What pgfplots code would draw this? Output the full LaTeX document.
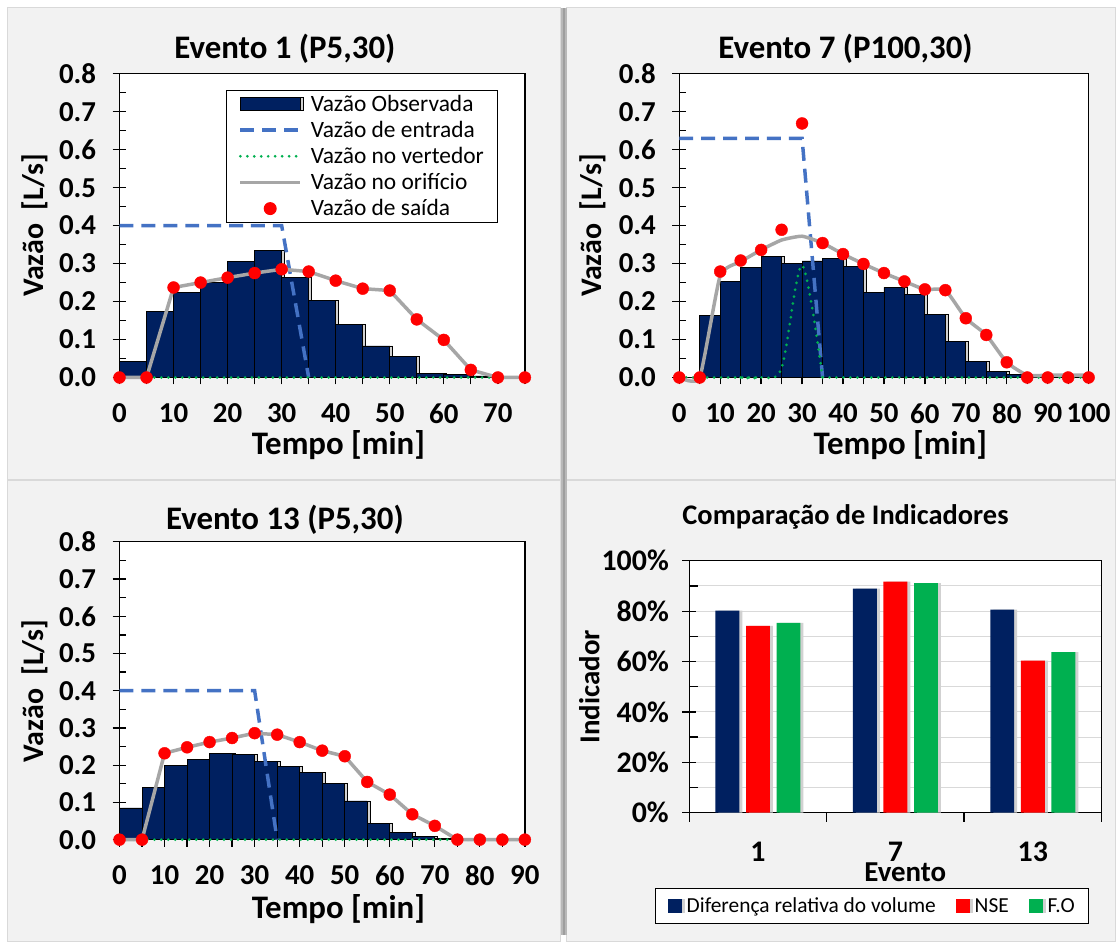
\documentclass[border=0pt]{standalone}
\usepackage{fontspec}
\setmainfont{Carlito}
\usepackage{pgfplots}
\pgfplotsset{compat=1.18}
\newcommand\fs[1]{\fontsize{#1}{#1}\selectfont}
\definecolor{navy}{HTML}{002060}
\definecolor{inflow}{HTML}{4472C4}
\definecolor{weir}{HTML}{00B050}
\definecolor{orif}{HTML}{A6A6A6}
\definecolor{panelbg}{HTML}{F2F2F2}
\definecolor{gridgray}{HTML}{D9D9D9}

\pgfplotsset{
  hydro/.style={
    scale only axis, anchor=south west, clip=false,
    axis line style={black, line width=1.3pt},
    axis background/.style={fill=white},
    ymin=0, ymax=0.8, ytick={0,0.1,0.2,0.3,0.4,0.5,0.6,0.7,0.8}, minor y tick num=1,
    ytick pos=left, xtick pos=bottom,
    tick align=outside, major tick length=14pt, minor tick length=7pt,
    tick style={black, line width=1.3pt},
    major y tick style={xshift=7pt},
    minor y tick style={xshift=7pt},
    major x tick style={draw=none},
    /pgf/number format/assume math mode=true,
    ticklabel style={font=\bfseries\fs{29}},
    xticklabel style={yshift=-9pt},
    yticklabel style={xshift=-6pt, /pgf/number format/.cd, fixed, fixed zerofill, precision=1},
    xlabel style={font=\bfseries\fs{33}},
    ylabel style={font=\bfseries\fs{30}},
    title style={font=\bfseries\fs{33}, anchor=center, yshift=-6pt},
    xlabel={Tempo [min]}, ylabel={Vazão~~[L/s]},
  },
  obs/.style={ybar interval, fill=navy, draw=black, line width=0.8pt,
    preaction={fill=black!18, transform canvas={xshift=3pt}},
    legend image code/.code={\draw[fill=navy, draw=black, line width=0.8pt] (0pt,-6.5pt) rectangle (60pt,6.5pt);}},
  entrada/.style={inflow, line width=3.5pt, dash pattern=on 14pt off 8pt,
    legend image code/.code={\draw[##1] (0pt,0pt) -- (60pt,0pt);}},
  vert/.style={weir, line width=3pt, line cap=round, dash pattern=on 0pt off 7pt,
    legend image code/.code={\draw[##1] (0pt,0pt) -- (60pt,0pt);}},
  orificio/.style={orif, line width=3.5pt,
    legend image code/.code={\draw[##1] (0pt,0pt) -- (60pt,0pt);}},
  saida/.style={only marks, mark=*, mark size=6pt, red, mark options={draw=none, fill=red},
    legend image code/.code={\fill[red] (30pt,0pt) circle (6pt);}},
}

\begin{document}
\begin{tikzpicture}
% fundo e paineis
\fill[white] (0pt,0pt) rectangle (1116pt,-939pt);
\fill[panelbg, draw=gridgray, line width=1pt] (8pt,-8pt) rectangle (563pt,-481pt);
\fill[panelbg, draw=gridgray, line width=1pt] (569pt,-8pt) rectangle (1120pt,-481pt);
\fill[panelbg, draw=gridgray, line width=1pt] (8pt,-482pt) rectangle (563pt,-945pt);
\fill[panelbg, draw=gridgray, line width=1pt] (569pt,-482pt) rectangle (1120pt,-945pt);
\fill[black!28] (563pt,-8pt) rectangle (569pt,-939pt);
\fill[black!38] (565pt,-8pt) rectangle (567pt,-939pt);
\useasboundingbox (0pt,0pt) rectangle (1116pt,-939pt);

% Evento 1
\begin{axis}[hydro, at={(120pt,-379pt)}, width=407pt, height=305pt,
  xmin=0, xmax=75, xtick={0,10,...,70}, minor xtick={0,5,...,75},
  title={Evento 1 (P5,30)}, title style={at={(0.408,1.082)}},
  xlabel style={at={(axis description cs:0.54,-0.222)}, anchor=center},
  ylabel style={at={(axis description cs:-0.209,0.5)}, anchor=center},
  legend style={at={(0.263,0.948)}, anchor=north west, draw=black, line width=1pt,
    fill=white, font=\fs{23.5}, inner xsep=12pt, inner ysep=3pt, row sep=4.5pt,
    column sep=7pt},
  legend cell align=left]
\addplot[obs] coordinates {(0,0.042)(5,0.174)(10,0.224)(15,0.251)(20,0.305)(25,0.334)(30,0.264)(35,0.202)(40,0.139)(45,0.083)(50,0.055)(55,0.010)(60,0.009)(65,0.004)(70,0)};
\addlegendentry{Vazão Observada}
\addplot[entrada] coordinates {(0,0.40)(5,0.40)(10,0.40)(15,0.40)(20,0.40)(25,0.40)(30,0.40)(35,0)};
\addlegendentry{Vazão de entrada}
\addplot[vert] coordinates {(0,0)(5,0)(10,0)(15,0)(20,0)(25,0)(30,0)(35,0)(40,0)(45,0)(50,0)(55,0)(60,0)(65,0)(70,0)(75,0)};
\addlegendentry{Vazão no vertedor}
\addplot[orificio] coordinates {(0,0)(5,0)(10,0.237)(15,0.250)(20,0.263)(25,0.275)(30,0.285)(35,0.279)(40,0.255)(45,0.234)(50,0.229)(55,0.153)(60,0.099)(65,0.020)(70,0)(75,0)};
\addlegendentry{Vazão no orifício}
\addplot[saida] coordinates {(0,0)(5,0)(10,0.237)(15,0.250)(20,0.263)(25,0.275)(30,0.285)(35,0.279)(40,0.255)(45,0.234)(50,0.229)(55,0.153)(60,0.099)(65,0.020)(70,0)(75,0)};
\addlegendentry{Vazão de saída}
\end{axis}

% Evento 7
\begin{axis}[hydro, at={(682pt,-379pt)}, width=411pt, height=305pt,
  xmin=0, xmax=100, xtick={0,10,...,100}, minor xtick={0,5,...,100},
  title={Evento 7 (P100,30)}, title style={at={(0.406,1.082)}},
  xlabel style={at={(axis description cs:0.54,-0.222)}, anchor=center},
  ylabel style={at={(axis description cs:-0.212,0.5)}, anchor=center}]
\addplot[obs] coordinates {(0,0)(5,0.163)(10,0.254)(15,0.290)(20,0.318)(25,0.301)(30,0.307)(35,0.314)(40,0.292)(45,0.225)(50,0.237)(55,0.218)(60,0.167)(65,0.094)(70,0.043)(75,0.015)(80,0.009)(85,0.005)(90,0.005)(95,0.005)(100,0)};
\addplot[entrada] coordinates {(0,0.63)(5,0.63)(10,0.63)(15,0.63)(20,0.63)(25,0.63)(30,0.63)(35,0)};
\addplot[vert] coordinates {(0,0)(5,0)(10,0)(15,0)(20,0)};
\addplot[vert, smooth, tension=0.5] coordinates {(15,0)(20,0)(25,0.025)(30,0.295)(35,0)};
\addplot[vert] coordinates {(35,0)(40,0)(45,0)(50,0)(55,0)(60,0)(65,0)(70,0)(75,0)(80,0)(85,0)(90,0)(95,0)(100,0)};
\addplot[orificio, smooth, tension=0.3] coordinates {(0,0)(5,0)(10,0.268)(15,0.305)(20,0.336)(25,0.362)(30,0.372)(35,0.354)(40,0.325)(45,0.299)(50,0.275)(55,0.253)(60,0.232)(65,0.230)(70,0.156)(75,0.112)(80,0.040)(85,0.006)(90,0.006)(95,0.006)(100,0.006)};
\addplot[saida] coordinates {(0,0)(5,0)(10,0.279)(15,0.308)(20,0.336)(25,0.389)(30,0.669)(35,0.354)(40,0.325)(45,0.299)(50,0.275)(55,0.253)(60,0.232)(65,0.230)(70,0.156)(75,0.112)(80,0.040)(85,0)(90,0)(95,0)(100,0)};
\end{axis}

% Evento 13
\begin{axis}[hydro, at={(120pt,-843pt)}, width=407pt, height=299pt,
  xmin=0, xmax=90, xtick={0,10,...,90}, minor xtick={0,5,...,90},
  title={Evento 13 (P5,30)}, title style={at={(0.408,1.074)}},
  xlabel style={at={(axis description cs:0.54,-0.233)}, anchor=center},
  ylabel style={at={(axis description cs:-0.209,0.5)}, anchor=center}]
\addplot[obs] coordinates {(0,0.085)(5,0.139)(10,0.200)(15,0.216)(20,0.232)(25,0.230)(30,0.210)(35,0.196)(40,0.180)(45,0.150)(50,0.104)(55,0.043)(60,0.020)(65,0.009)(70,0.003)(75,0)};
\addplot[entrada] coordinates {(0,0.40)(5,0.40)(10,0.40)(15,0.40)(20,0.40)(25,0.40)(30,0.40)(35,0)};
\addplot[vert] coordinates {(0,0)(5,0)(10,0)(15,0)(20,0)(25,0)(30,0)(35,0)(40,0)(45,0)(50,0)(55,0)(60,0)(65,0)(70,0)(75,0)(80,0)(85,0)(90,0)};
\addplot[orificio] coordinates {(0,0)(5,0)(10,0.232)(15,0.248)(20,0.262)(25,0.273)(30,0.286)(35,0.282)(40,0.262)(45,0.239)(50,0.224)(55,0.155)(60,0.121)(65,0.068)(70,0.037)(75,0)(80,0)(85,0)(90,0)};
\addplot[saida] coordinates {(0,0)(5,0)(10,0.232)(15,0.248)(20,0.262)(25,0.273)(30,0.286)(35,0.282)(40,0.262)(45,0.239)(50,0.224)(55,0.155)(60,0.121)(65,0.068)(70,0.037)(75,0)(80,0)(85,0)(90,0)};
\end{axis}

% Comparacao de indicadores
\begin{axis}[at={(692pt,-816pt)}, anchor=south west, scale only axis,
  width=414pt, height=253pt,
  ybar=6.7pt, bar width=24pt,
  xmin=0.5, xmax=3.5, ymin=0, ymax=100,
  xtick={1,2,3}, xticklabels={1,7,13}, minor xtick={0.5,1.5,2.5,3.5},
  ytick={0,20,40,60,80,100}, minor ytick={10,30,50,70,90},
  yticklabels={0\%,20\%,40\%,60\%,80\%,100\%},
  ytick pos=left, xtick pos=bottom,
  ymajorgrids, yminorgrids,
  major grid style={gridgray, line width=1pt}, minor grid style={gridgray, line width=1pt},
  axis line style={black, line width=1.3pt},
  axis background/.style={fill=white},
  tick align=outside, major tick length=14pt, minor tick length=9pt,
  tick style={black, line width=1.3pt},
  major y tick style={xshift=7pt},
  minor y tick style={xshift=9pt},
  major x tick style={draw=none},
  ticklabel style={font=\bfseries\fs{30}},
  xticklabel style={yshift=-12pt},
  yticklabel style={xshift=-3pt},
  title={Comparação de Indicadores},
  title style={font=\bfseries\fs{28.5}, at={(0.379,1.174)}, anchor=center, yshift=-6pt},
  xlabel={Evento}, ylabel={Indicador},
  label style={font=\bfseries\fs{29}},
  xlabel style={at={(axis description cs:0.524,-0.236)}, anchor=center},
  ylabel style={at={(axis description cs:-0.242,0.5)}, anchor=center},
  legend columns=3,
  legend style={at={(0.444,-0.37)}, anchor=center, draw=black, line width=1pt,
    fill=white, font=\fs{21.5}, inner xsep=12pt, inner ysep=7pt, column sep=3pt,
    /tikz/every even column/.append style={column sep=18pt}}]
\addplot[fill=navy, draw=none, preaction={fill=black!18, transform canvas={xshift=3pt}},
  legend image code/.code={\fill[navy] (0pt,-7pt) rectangle (14pt,7pt);}]
  coordinates {(1,80.2)(2,88.9)(3,80.6)};
\addlegendentry{Diferença relativa do volume}
\addplot[fill=red, draw=none, preaction={fill=black!18, transform canvas={xshift=3pt}},
  legend image code/.code={\fill[red] (0pt,-7pt) rectangle (14pt,7pt);}]
  coordinates {(1,74.2)(2,91.7)(3,60.4)};
\addlegendentry{NSE}
\addplot[fill=weir, draw=none, preaction={fill=black!18, transform canvas={xshift=3pt}},
  legend image code/.code={\fill[weir] (0pt,-7pt) rectangle (14pt,7pt);}]
  coordinates {(1,75.3)(2,91.1)(3,63.7)};
\addlegendentry{F.O}
\end{axis}
\end{tikzpicture}
\end{document}
